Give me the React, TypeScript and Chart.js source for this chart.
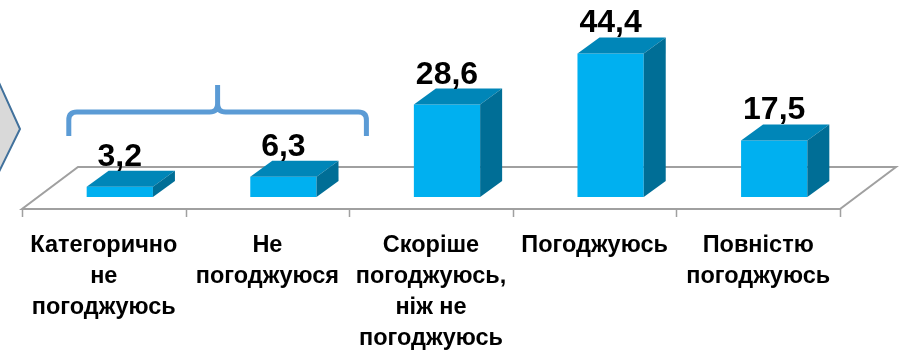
import React, { useEffect, useRef } from "react";
import { Chart, registerables } from "chart.js";

Chart.register(...registerables);

const categories: string[][] = [
  ["Категорично", "не", "погоджуюсь"],
  ["Не", "погоджуюся"],
  ["Скоріше", "погоджуюсь,", "ніж не", "погоджуюсь"],
  ["Погоджуюсь"],
  ["Повністю", "погоджуюсь"],
];
const values: number[] = [3.2, 6.3, 28.6, 44.4, 17.5];
const yMax = 60;

const FRONT = "#00B0F0";
const TOP = "#0086B8";
const SIDE = "#006E96";
const FONT = "'Liberation Sans', Arial, sans-serif";

// 3D geometry (style)
const BAR_SHIFT_X = 16;
const FLOOR_DROP = 12;
const FLOOR_DX = 56;
const FLOOR_DY = -42;
const DEPTH_DX = 22;
const DEPTH_DY = -16;

const fmt = (v: number) => v.toFixed(1).replace(".", ",");

const threeD = {
  id: "threeD",
  beforeDatasetsDraw(chart: any) {
    const { ctx, chartArea, scales } = chart;
    const base = scales.y.getPixelForValue(0);
    const fy = base + FLOOR_DROP;
    const l = chartArea.left;
    const r = chartArea.right;
    ctx.save();
    ctx.beginPath();
    ctx.moveTo(l, fy);
    ctx.lineTo(r, fy);
    ctx.lineTo(r + FLOOR_DX, fy + FLOOR_DY);
    ctx.lineTo(l + FLOOR_DX, fy + FLOOR_DY);
    ctx.closePath();
    ctx.fillStyle = "#ffffff";
    ctx.fill();
    ctx.strokeStyle = "#a0a0a0";
    ctx.lineWidth = 2;
    ctx.lineJoin = "miter";
    ctx.stroke();
    const n = categories.length;
    const step = (r - l) / n;
    ctx.beginPath();
    for (let i = 0; i <= n; i++) {
      const tx = Math.round(l + i * step) + 0.5;
      ctx.moveTo(tx, fy);
      ctx.lineTo(tx, fy + 8);
    }
    ctx.lineWidth = 1.5;
    ctx.stroke();
    ctx.restore();
    ctx.save();
    ctx.translate(BAR_SHIFT_X, 0);
  },
  afterDatasetsDraw(chart: any) {
    const { ctx } = chart;
    ctx.restore();
    const meta = chart.getDatasetMeta(0);
    ctx.save();
    meta.data.forEach((el: any, i: number) => {
      const p = el.getProps(["x", "y", "base", "width"], true);
      const x0 = p.x - p.width / 2 + BAR_SHIFT_X;
      const x1 = p.x + p.width / 2 + BAR_SHIFT_X;
      const yt = p.y;
      const yb = p.base;
      ctx.beginPath();
      ctx.moveTo(x0, yt);
      ctx.lineTo(x1, yt);
      ctx.lineTo(x1 + DEPTH_DX, yt + DEPTH_DY);
      ctx.lineTo(x0 + DEPTH_DX, yt + DEPTH_DY);
      ctx.closePath();
      ctx.fillStyle = TOP;
      ctx.fill();
      ctx.beginPath();
      ctx.moveTo(x1, yt);
      ctx.lineTo(x1 + DEPTH_DX, yt + DEPTH_DY);
      ctx.lineTo(x1 + DEPTH_DX, yb + DEPTH_DY);
      ctx.lineTo(x1, yb);
      ctx.closePath();
      ctx.fillStyle = SIDE;
      ctx.fill();
      ctx.fillStyle = "#000000";
      ctx.font = `bold 32px ${FONT}`;
      ctx.textAlign = "center";
      ctx.textBaseline = "alphabetic";
      ctx.fillText(fmt(values[i]), (x0 + x1) / 2, yt + DEPTH_DY - 5);
    });
    ctx.restore();
  },
  afterDraw(chart: any) {
    const { ctx, scales } = chart;
    const x = scales.x;
    ctx.save();
    ctx.beginPath();
    ctx.moveTo(-4, 76);
    ctx.lineTo(20, 129);
    ctx.lineTo(-4, 178);
    ctx.closePath();
    ctx.fillStyle = "#d9d9d9";
    ctx.fill();
    ctx.strokeStyle = "#41719c";
    ctx.lineWidth = 2;
    ctx.stroke();
    const c0 = x.getPixelForValue(0);
    const c1 = x.getPixelForValue(1);
    const left = c0 - 35;
    const right = c1 + 99;
    const mid = (left + right) / 2;
    const yH = 112;
    const yEnd = 136;
    const yTip = 85;
    ctx.beginPath();
    ctx.moveTo(left, yEnd);
    ctx.lineTo(left, yH + 8);
    ctx.quadraticCurveTo(left, yH, left + 8, yH);
    ctx.lineTo(mid - 8, yH);
    ctx.quadraticCurveTo(mid, yH, mid, yH - 8);
    ctx.lineTo(mid, yTip);
    ctx.moveTo(mid, yH - 8);
    ctx.quadraticCurveTo(mid, yH, mid + 8, yH);
    ctx.lineTo(right - 8, yH);
    ctx.quadraticCurveTo(right, yH, right, yH + 8);
    ctx.lineTo(right, yEnd);
    ctx.strokeStyle = "#5b9bd5";
    ctx.lineWidth = 5;
    ctx.lineCap = "butt";
    ctx.lineJoin = "round";
    ctx.stroke();
    ctx.restore();
  },
};

export default function App() {
  const ref = useRef<HTMLCanvasElement | null>(null);
  useEffect(() => {
    if (!ref.current) return;
    const chart = new Chart(ref.current, {
      type: "bar",
      data: {
        labels: categories,
        datasets: [
          {
            data: values,
            backgroundColor: FRONT,
            borderWidth: 0,
            barPercentage: 0.405,
            categoryPercentage: 1,
          },
        ],
      },
      options: {
        responsive: false,
        animation: false,
        events: [],
        layout: { padding: { left: 22, right: 70, top: 3, bottom: 0 } },
        plugins: { legend: { display: false }, tooltip: { enabled: false } },
        scales: {
          x: {
            grid: { display: false, drawTicks: false },
            border: { display: false },
            ticks: {
              autoSkip: false,
              maxRotation: 0,
              minRotation: 0,
              padding: 33,
              color: "#000000",
              font: { family: FONT, size: 23.5, weight: "bold", lineHeight: 31 / 23.5 },
            },
            afterFit: (s: any) => {
              s.height = 160;
              s.paddingLeft = 0;
              s.paddingRight = 0;
            },
          },
          y: {
            display: false,
            min: 0,
            max: yMax,
          },
        },
      },
      plugins: [threeD],
    } as any);
    return () => chart.destroy();
  }, []);
  return (
    <div style={{ position: "fixed", left: 0, top: 0, width: 910, height: 357, background: "#fff" }}>
      <canvas ref={ref} width={910} height={357} style={{ display: "block" }} />
    </div>
  );
}
